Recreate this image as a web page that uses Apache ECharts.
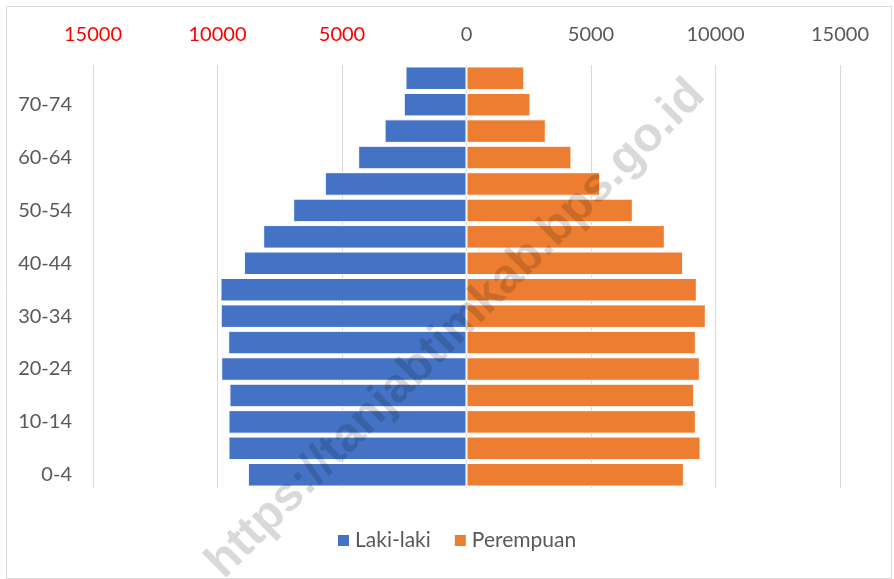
<!DOCTYPE html>
<html>
<head>
<meta charset="utf-8">
<title>Piramida Penduduk</title>
<script src="https://cdn.jsdelivr.net/npm/echarts@6/dist/echarts.min.js"></script>
<style>
  html, body { margin: 0; padding: 0; background: #fff; }
  #chart { width: 894px; height: 579px; }
</style>
</head>
<body>
<div id="chart"></div>
<script>
// kelompok umur, dari bawah ke atas
var ageGroups = ['0-4', '5-9', '10-14', '15-19', '20-24', '25-29', '30-34', '35-39',
    '40-44', '45-49', '50-54', '55-59', '60-64', '65-69', '70-74', '75+'];
var laki = [8780, 9560, 9560, 9520, 9850, 9570, 9870, 9880,
    8940, 8165, 6960, 5690, 4350, 3290, 2520, 2450];
var perempuan = [8730, 9400, 9210, 9145, 9370, 9210, 9610, 9250,
    8700, 7965, 6680, 5370, 4215, 3185, 2570, 2320];
var axisTicks = [-15000, -10000, -5000, 0, 5000, 10000, 15000];

var chart = echarts.init(document.getElementById('chart'));
var fontFamily = 'Lato, "Open Sans", sans-serif';

var option = {
    animation: false,
    textStyle: { fontFamily: fontFamily },
    legend: {
        bottom: 23,
        left: 331,
        itemWidth: 13,
        itemHeight: 13,
        itemGap: 22,
        icon: 'rect',
        textStyle: { fontSize: 21, color: '#595959', fontFamily: fontFamily },
        data: ['Laki-laki', 'Perempuan']
    },
    grid: {
        left: 93,
        right: 54,
        top: 65,
        bottom: 91
    },
    xAxis: {
        type: 'value',
        position: 'top',
        min: axisTicks[0],
        max: axisTicks[axisTicks.length - 1],
        interval: 5000,
        axisLine: { show: false },
        axisTick: { show: false },
        splitLine: { lineStyle: { color: '#d9d9d9', width: 1 } },
        axisLabel: {
            margin: 20,
            fontSize: 20,
            fontFamily: fontFamily,
            formatter: function (v) {
                return String(Math.abs(v));
            },
            color: function (v) {
                return Number(v) < 0 ? '#ff0000' : '#595959';
            }
        }
    },
    yAxis: {
        type: 'category',
        data: ageGroups,
        axisLine: { show: false },
        axisTick: { show: false },
        axisLabel: {
            interval: 1,
            margin: 21,
            fontSize: 20,
            color: '#595959',
            fontFamily: fontFamily
        }
    },
    series: [
        {
            name: 'Laki-laki',
            type: 'bar',
            barGap: '-100%',
            barCategoryGap: '11%',
            itemStyle: { color: '#4472C4', borderColor: '#ffffff', borderWidth: 1 },
            data: laki.map(function (v) { return -v; })
        },
        {
            name: 'Perempuan',
            type: 'bar',
            barGap: '-100%',
            barCategoryGap: '11%',
            itemStyle: { color: '#ED7D31', borderColor: '#ffffff', borderWidth: 1 },
            data: perempuan
        }
    ],
    graphic: [
        {
            type: 'rect',
            left: 4,
            top: 4,
            shape: { width: 885, height: 572 },
            style: { fill: 'none', stroke: '#d9d9d9', lineWidth: 1 },
            silent: true,
            z: -10
        },
        {
            type: 'text',
            x: 456,
            y: 329,
            rotation: Math.PI / 4,
            silent: true,
            z: 100,
            style: {
                text: 'https://tanjabtimkab.bps.go.id',
                fontSize: 48,
                fontWeight: 'bold',
                fontFamily: 'Liberation Sans, Arial, sans-serif',
                fill: 'rgba(0,0,0,0.15)',
                align: 'center',
                verticalAlign: 'middle'
            }
        }
    ]
};
chart.setOption(option);
window.addEventListener('resize', function () {
    chart.resize();
});
</script>
</body>
</html>
